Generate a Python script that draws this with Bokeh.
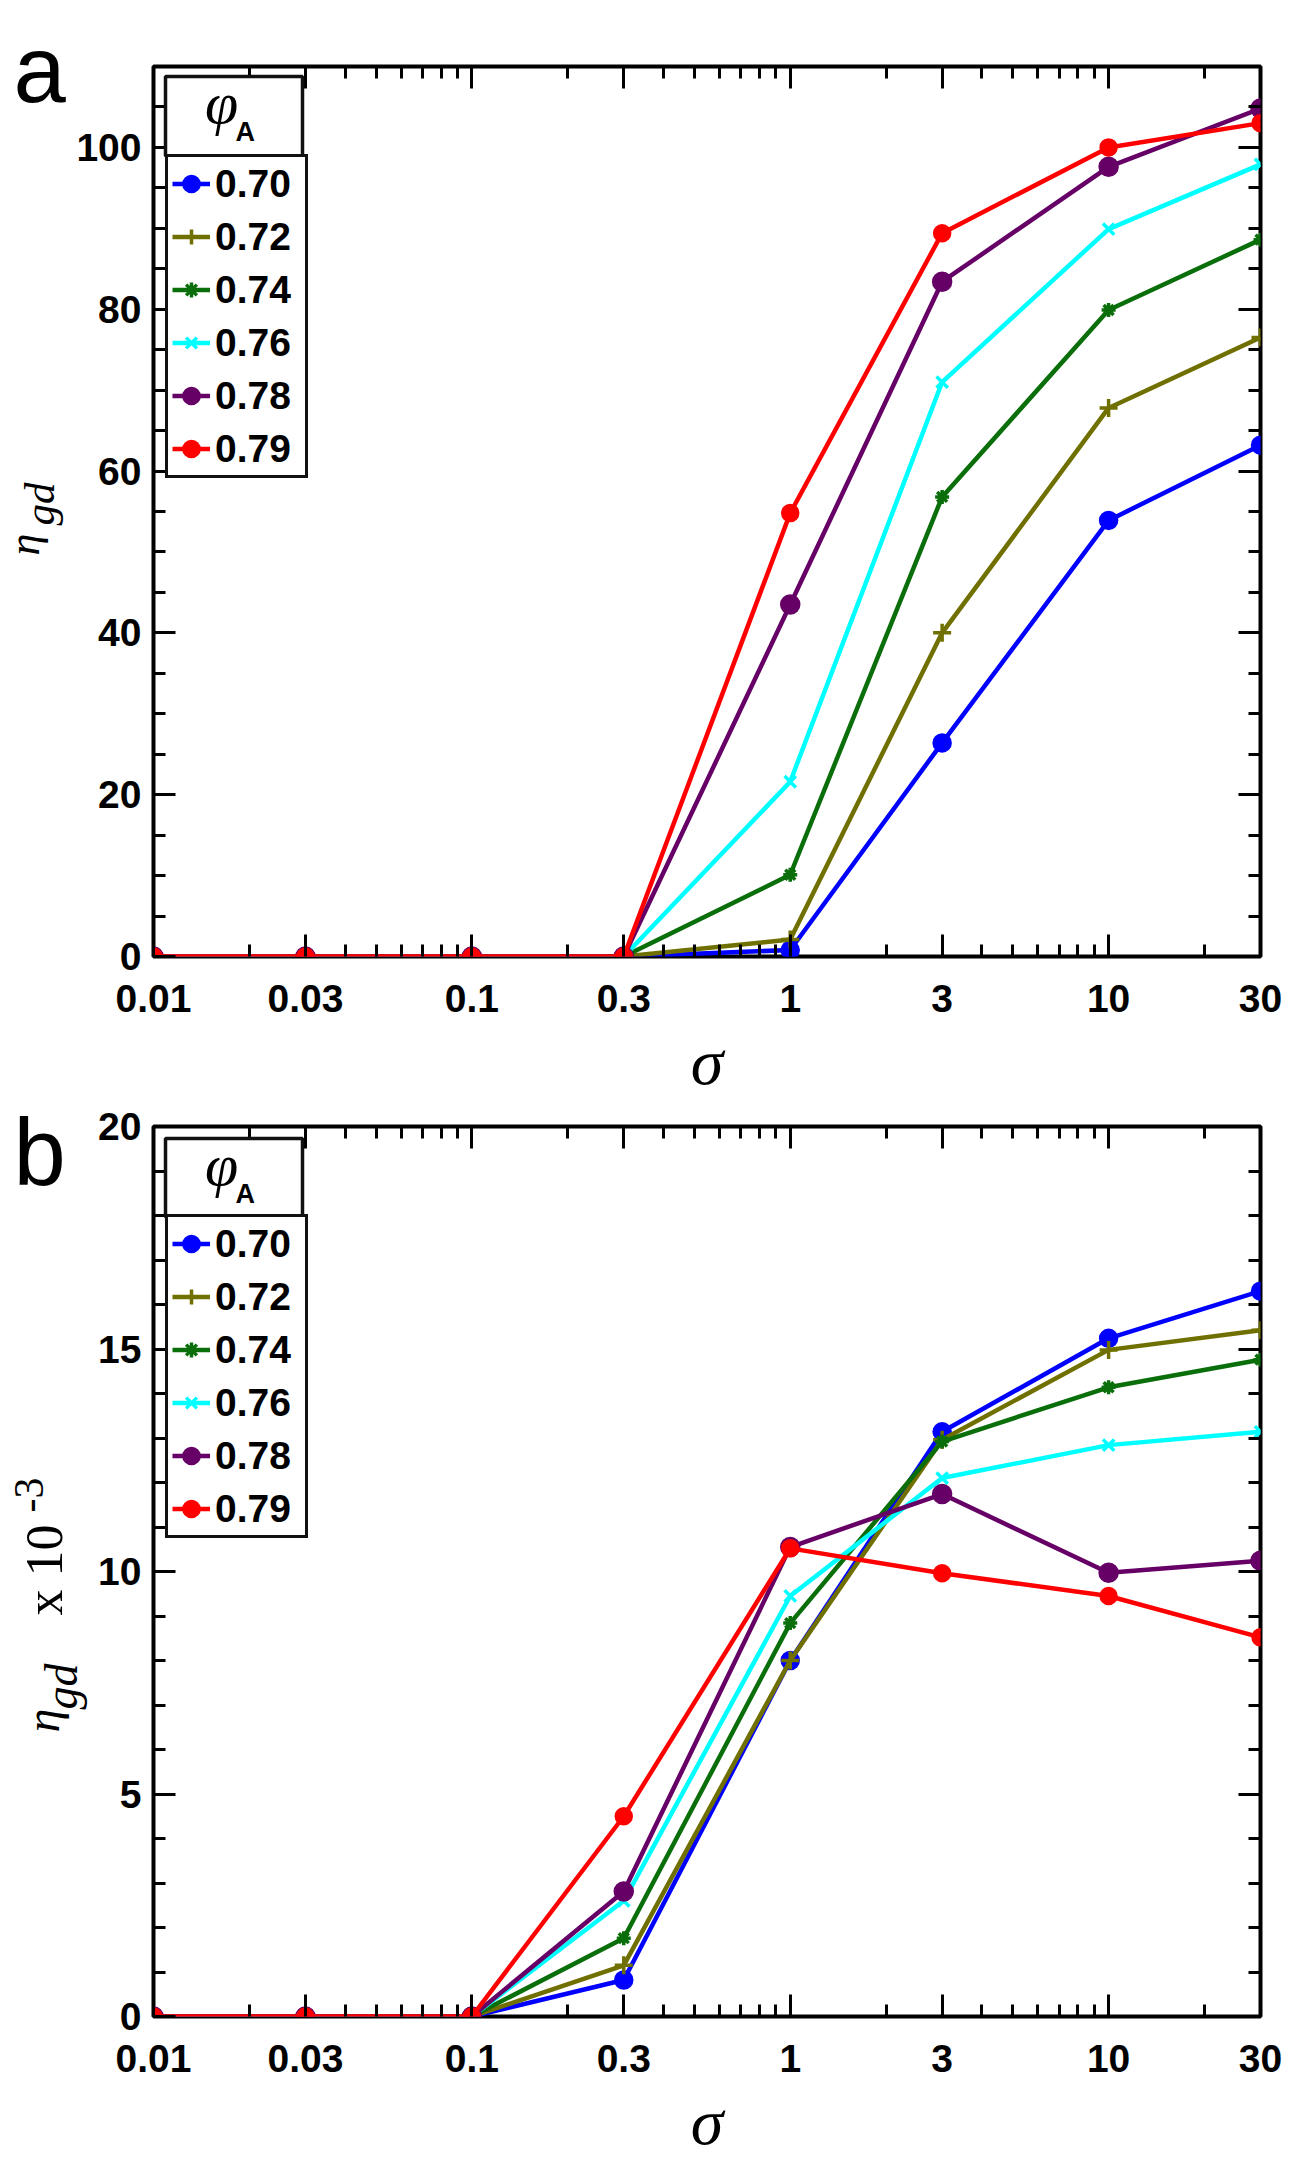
import math
from bokeh.plotting import figure
from bokeh.models import (Range1d, FixedTicker, LinearAxis, LogAxis, Legend, LegendItem,
                          Label, BoxAnnotation)
from bokeh.layouts import column, row
from bokeh.embed import file_html
from bokeh.resources import INLINE

# ---------------- data ----------------
sigma = [0.01, 0.03, 0.1, 0.3, 1, 3, 10, 30]
phi_labels = ["0.70", "0.72", "0.74", "0.76", "0.78", "0.79"]

# panel a : eta_gd
eta_a_070 = [0, 0, 0, 0, 0.8, 26.4, 53.9, 63.2]
eta_a_072 = [0, 0, 0, 0, 2.1, 40.0, 67.8, 76.5]
eta_a_074 = [0, 0, 0, 0, 10.1, 56.8, 79.9, 88.6]
eta_a_076 = [0, 0, 0, 0, 21.6, 71.0, 89.9, 97.9]
eta_a_078 = [0, 0, 0, 0, 43.5, 83.4, 97.6, 104.8]
eta_a_079 = [0, 0, 0, 0, 54.8, 89.4, 100.0, 103.0]

# panel b : eta_gd x 10^-3
eta_b_070 = [0, 0, 0, 0.82, 8.0, 13.14, 15.24, 16.30]
eta_b_072 = [0, 0, 0, 1.15, 8.0, 12.96, 14.98, 15.42]
eta_b_074 = [0, 0, 0, 1.76, 8.84, 12.92, 14.14, 14.76]
eta_b_076 = [0, 0, 0, 2.60, 9.45, 12.10, 12.84, 13.14]
eta_b_078 = [0, 0, 0, 2.81, 10.55, 11.74, 9.97, 10.24]
eta_b_079 = [0, 0, 0, 4.50, 10.52, 9.96, 9.45, 8.52]

x_tick_values = [0.01, 0.03, 0.1, 0.3, 1, 3, 10, 30]
x_tick_labels = ["0.01", "0.03", "0.1", "0.3", "1", "3", "10", "30"]
x_minor_values = [0.02, 0.04, 0.05, 0.06, 0.07, 0.08, 0.09,
                  0.2, 0.4, 0.5, 0.6, 0.7, 0.8, 0.9,
                  2, 4, 5, 6, 7, 8, 9, 20]
ya_tick_values = [0, 20, 40, 60, 80, 100]
ya_tick_labels = ["0", "20", "40", "60", "80", "100"]
ya_minor_values = [5, 10, 15, 25, 30, 35, 45, 50, 55, 65, 70, 75, 85, 90, 95, 105, 110]
yb_tick_values = [0, 5, 10, 15, 20]
yb_tick_labels = ["0", "5", "10", "15", "20"]
yb_minor_values = [1, 2, 3, 4, 6, 7, 8, 9, 11, 12, 13, 14, 16, 17, 18, 19]

# ---------------- styles ----------------
colors = ["#0000ff", "#707000", "#0a6e0a", "#00ffff", "#660066", "#ff0000"]
markers = ["circle", "cross", "asterisk", "x", "circle", "circle"]
msizes = [16, 18, 14, 16, 17, 15]

XMIN, XMAX = 0.01, 30
FRAME_W = 1107
BR = 33
PX_DEC = FRAME_W / (math.log10(XMAX) - math.log10(XMIN))
MID = 0.35          # label anchor sits ~0.35 em above the glyph baseline

SANS = "Liberation Sans"
SERIF = "Liberation Serif"
INK = "#111111"


def fx(dx):
    """pixel offset from the frame's left edge -> data x (log axis)"""
    return XMIN * 10 ** (dx / PX_DEC)


def no_align(fig):
    try:
        fig.frame_align = False
    except Exception:
        pass


def style_axis(ax, labelled):
    ax.axis_line_color = None
    ax.major_tick_in = 22
    ax.major_tick_out = 0
    ax.minor_tick_in = 12
    ax.minor_tick_out = 0
    ax.major_tick_line_width = 3
    ax.minor_tick_line_width = 3
    ax.major_tick_line_color = "black"
    ax.minor_tick_line_color = "black"
    if labelled:
        ax.major_label_text_font = SANS
        ax.major_label_text_font_style = "bold"
        ax.major_label_text_font_size = "39px"
        ax.major_label_text_color = "black"
    else:
        ax.major_label_text_font_size = "0px"
        ax.major_label_standoff = 0


def make_panel(series, ymax, yt, ylab, ym, height, btop, bleft, frame_h,
               leg_shift, head_top, head_bot):
    bbot = height - btop - frame_h
    width = bleft + FRAME_W + BR
    ppu = frame_h / ymax
    p = figure(width=width, height=height, x_axis_type="log",
               x_range=Range1d(XMIN, XMAX), y_range=Range1d(0, ymax),
               output_backend="svg", toolbar_location=None, title=None,
               min_border_left=bleft, min_border_right=BR,
               min_border_top=btop, min_border_bottom=bbot)
    no_align(p)
    p.xgrid.visible = False
    p.ygrid.visible = False
    p.outline_line_color = "black"
    p.outline_line_width = 4
    p.outline_line_alpha = 1.0
    p.background_fill_color = "white"
    p.border_fill_color = "white"

    xb = p.below[0]
    xb.ticker = FixedTicker(ticks=x_tick_values, minor_ticks=x_minor_values)
    xb.major_label_overrides = dict(zip(x_tick_values, x_tick_labels))
    style_axis(xb, True)
    xb.major_label_standoff = 28
    xb.axis_label = "σ"
    xb.axis_label_text_font = SERIF
    xb.axis_label_text_font_style = "italic"
    xb.axis_label_text_font_size = "66px"
    xb.axis_label_text_color = "black"
    xb.axis_label_standoff = 10

    yl = p.left[0]
    yl.ticker = FixedTicker(ticks=yt, minor_ticks=ym)
    yl.major_label_overrides = dict(zip(yt, ylab))
    style_axis(yl, True)
    yl.major_label_standoff = 12

    top_ax = LogAxis(ticker=FixedTicker(ticks=x_tick_values, minor_ticks=x_minor_values))
    style_axis(top_ax, False)
    top_ax.major_label_overrides = {v: "" for v in x_tick_values}
    p.add_layout(top_ax, "above")
    right_ax = LinearAxis(ticker=FixedTicker(ticks=yt, minor_ticks=ym))
    style_axis(right_ax, False)
    right_ax.major_label_overrides = {v: "" for v in yt}
    p.add_layout(right_ax, "right")

    items = []
    for vals, lab, c, mk, ms in zip(series, phi_labels, colors, markers, msizes):
        ln = p.line(sigma, vals, line_color=c, line_width=4.5)
        sc = p.scatter(sigma, vals, marker=mk, size=ms, fill_color=c,
                       line_color=c, line_width=3.5)
        items.append(LegendItem(label=lab, renderers=[ln, sc]))

    # legend entries; header box (phi_A) sits directly on the legend's upper edge
    leg = Legend(items=items, location=(12, frame_h - 414 - leg_shift),
                 padding=4, spacing=8, margin=0,
                 glyph_width=38, glyph_height=45, label_height=45, label_width=86,
                 label_standoff=5,
                 label_text_font=SANS, label_text_font_style="bold",
                 label_text_font_size="39px", label_text_color="black",
                 border_line_color=INK, border_line_width=3.5, border_line_alpha=1.0,
                 background_fill_color="white", background_fill_alpha=1.0)
    p.add_layout(leg)
    header = BoxAnnotation(left=fx(12), right=fx(12 + 137),
                           top=ymax - head_top / ppu, bottom=ymax - head_bot / ppu,
                           fill_color="white", fill_alpha=1.0,
                           line_color=INK, line_width=3.5, line_alpha=1.0)
    p.add_layout(header)
    p.add_layout(Label(x=fx(68), y=ymax - (head_top + 27) / ppu, text="φ",
                       text_align="center", text_baseline="alphabetic", text_font=SERIF,
                       text_font_style="italic", text_font_size="60px",
                       text_color="black"))
    p.add_layout(Label(x=fx(82), y=ymax - (head_top + 65 - MID * 27) / ppu, text="A",
                       text_align="left", text_baseline="alphabetic", text_font=SANS,
                       text_font_style="bold", text_font_size="27px",
                       text_color="black"))
    return p


def make_strip(width, height):
    s = figure(width=width, height=height, x_range=Range1d(0, width),
               y_range=Range1d(height, 0), output_backend="svg",
               toolbar_location=None, title=None,
               x_axis_location=None, y_axis_location=None,
               min_border_left=0, min_border_right=0,
               min_border_top=0, min_border_bottom=0)
    no_align(s)
    s.xgrid.visible = False
    s.ygrid.visible = False
    s.outline_line_color = None
    s.background_fill_color = "white"
    s.border_fill_color = "white"
    return s


def letter(s, base_y, text):
    s.add_layout(Label(x=13, y=base_y - MID * 94, text=text, text_align="left",
                       text_baseline="alphabetic", text_font=SANS,
                       text_font_size="94px", text_color="black"))


def rlabel(s, base_x, y, text, size, italic=True):
    s.add_layout(Label(x=base_x - MID * size, y=y, text=text, angle=math.pi / 2,
                       text_align="left", text_baseline="alphabetic", text_font=SERIF,
                       text_font_style="italic" if italic else "normal",
                       text_font_size=f"{size}px", text_color="black"))


# ---------------- panel a ----------------
HA, HB = 1100, 1060
pa = make_panel([eta_a_070, eta_a_072, eta_a_074, eta_a_076, eta_a_078, eta_a_079],
                110, ya_tick_values, ya_tick_labels, ya_minor_values,
                HA, 66, 81, 894, 2, 10, 90)
sa = make_strip(72, HA)
letter(sa, 102, "a")
rlabel(sa, 39, 555, "η", 44)
rlabel(sa, 54, 525, "gd", 43)

# ---------------- panel b ----------------
pb = make_panel([eta_b_070, eta_b_072, eta_b_074, eta_b_076, eta_b_078, eta_b_079],
                20, yb_tick_values, yb_tick_labels, yb_minor_values,
                HB, 26, 65, 896, 4, 12, 91)
sb = make_strip(88, HB)
letter(sb, 85, "b")
rlabel(sb, 59, 632, "η", 48)
rlabel(sb, 77, 609, "gd", 46)
rlabel(sb, 62, 515, "x 10", 52, italic=False)
rlabel(sb, 43, 412, "-3", 42, italic=False)

ra = row(sa, pa)
rb = row(sb, pb)
layout = column(ra, rb)
open("out.html", "w").write(file_html(layout, INLINE))
